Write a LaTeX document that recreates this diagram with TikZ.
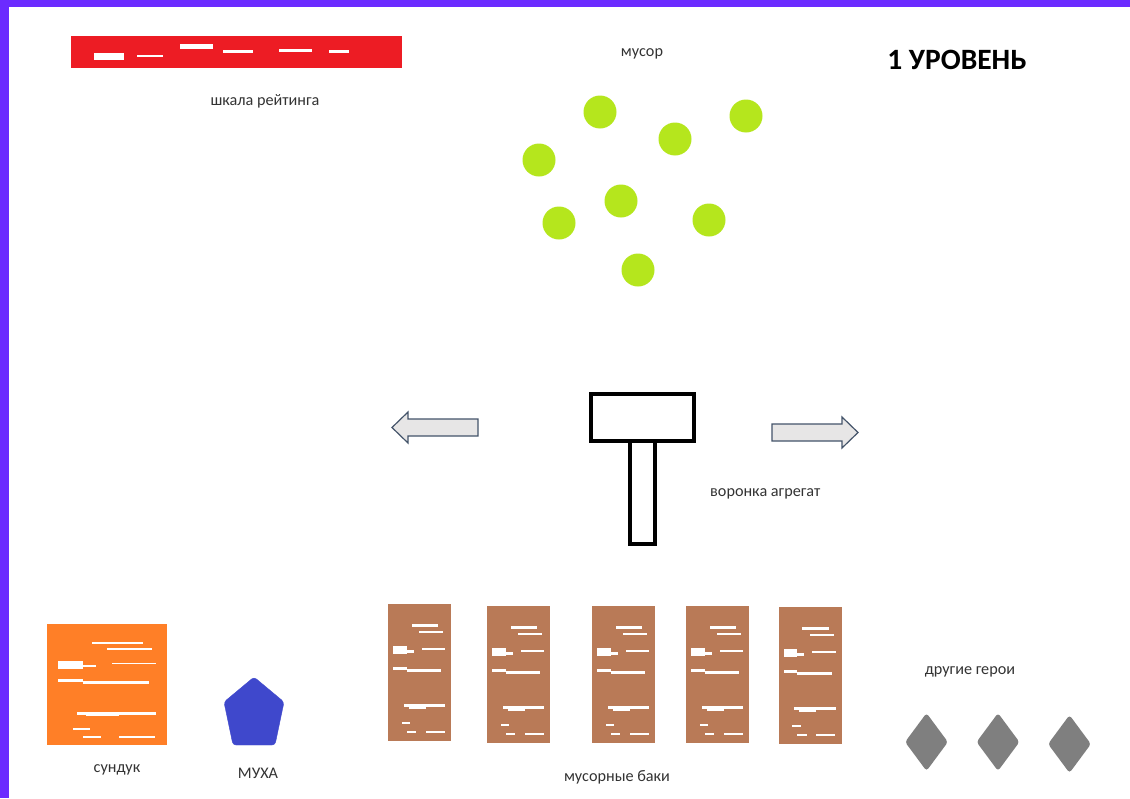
\documentclass[tikz,border=0pt]{standalone}
\usepackage{fontspec}
\setmainfont{Carlito}
\usetikzlibrary{shapes.geometric}

\definecolor{framecol}{HTML}{6B2BFF}
\definecolor{barred}{HTML}{ED1C24}
\definecolor{junkgreen}{HTML}{B5E61D}
\definecolor{chestorange}{HTML}{FF7F27}
\definecolor{flyblue}{HTML}{3F48CC}
\definecolor{binbrown}{HTML}{B97A57}
\definecolor{herogray}{HTML}{7F7F7F}
\definecolor{arrowfill}{HTML}{E7E6E6}
\definecolor{arrowline}{HTML}{44546A}

% white streaks inside a unit square (y runs down)
\newcommand{\trashmarks}{%
  \fill[white] (0.38,0.15) rectangle (0.80,0.17);
  \fill[white] (0.50,0.20) rectangle (0.88,0.215);
  \fill[white] (0.09,0.31) rectangle (0.30,0.37);
  \fill[white] (0.30,0.34) rectangle (0.41,0.36);
  \fill[white] (0.54,0.32) rectangle (0.91,0.335);
  \fill[white] (0.09,0.46) rectangle (0.30,0.48);
  \fill[white] (0.30,0.475) rectangle (0.85,0.495);
  \fill[white] (0.25,0.73) rectangle (0.91,0.75);
  \fill[white] (0.33,0.75) rectangle (0.60,0.765);
  \fill[white] (0.22,0.86) rectangle (0.36,0.875);
  \fill[white] (0.30,0.93) rectangle (0.45,0.945);
  \fill[white] (0.60,0.93) rectangle (0.90,0.945);
}

\begin{document}
\begin{tikzpicture}[x=1pt,y=-1pt]
\tikzstyle{every node}+=[inner sep=0pt]
\tikzstyle{caption}=[font=\fontsize{16.2}{19}\selectfont, text=black!80]
\tikzstyle{junk}=[circle, fill=junkgreen, minimum size=33pt]
\tikzstyle{trashbin}=[rectangle, fill=binbrown, minimum width=63pt, minimum height=137pt]
\tikzstyle{hero}=[diamond, fill=herogray, minimum width=43pt, minimum height=58pt, rounded corners=3pt]
\tikzstyle{funnel}=[rectangle, draw=black, fill=white, line width=4pt]
\tikzstyle{flatarrow}=[fill=arrowfill, draw=arrowline, line width=1.2pt, line join=miter]
\useasboundingbox (0,0) rectangle (1130,798);
\fill[white] (0,0) rectangle (1130,798);
\fill[framecol] (0,0) rectangle (1130,7);
\fill[framecol] (0,0) rectangle (9,798);

% rating bar
\node[rectangle, fill=barred, minimum width=331pt, minimum height=32pt] (bar) at (236.5,52) {};
\begin{scope}[shift={(bar.north west)}, xscale=331, yscale=32]
  \fill[white] (0.07,0.55) rectangle (0.16,0.75);
  \fill[white] (0.33,0.25) rectangle (0.43,0.42);
  \fill[white] (0.46,0.45) rectangle (0.55,0.55);
  \fill[white] (0.63,0.40) rectangle (0.73,0.50);
  \fill[white] (0.78,0.45) rectangle (0.84,0.55);
  \fill[white] (0.20,0.60) rectangle (0.28,0.66);
\end{scope}
\node[caption] (barlabel) at (265,101) {шкала рейтинга};

% title
\node[font=\bfseries\fontsize{29.5}{34}\selectfont] (level) at (957,60) {1 УРОВЕНЬ};

% garbage
\node[caption] (junklabel) at (642,54) {мусор};
\node[junk] (junk1) at (600,112) {};
\node[junk] (junk2) at (746,116) {};
\node[junk] (junk3) at (675,139) {};
\node[junk] (junk4) at (539,160) {};
\node[junk] (junk5) at (621,201) {};
\node[junk] (junk6) at (559,223) {};
\node[junk] (junk7) at (709,220) {};
\node[junk] (junk8) at (638,270) {};

% funnel unit with arrows
\node[funnel, minimum width=25pt, minimum height=103pt] (stem) at (642.5,492.5) {};
\node[funnel, minimum width=103pt, minimum height=47pt] (head) at (642.5,417.5) {};
\node[caption, anchor=west] (funnellabel) at (710,494) {воронка агрегат};
\draw[flatarrow] (392,427.5) -- (408,412) -- (408,419) -- (478,419) -- (478,436)
  -- (408,436) -- (408,443) -- cycle;
\draw[flatarrow] (858,432.5) -- (842,417) -- (842,424) -- (772,424) -- (772,441)
  -- (842,441) -- (842,448) -- cycle;

% chest
\node[rectangle, fill=chestorange, minimum width=120pt, minimum height=121pt] (chest) at (107,684.5) {};
\begin{scope}[shift={(chest.north west)}, xscale=120, yscale=121]
  \trashmarks
\end{scope}
\node[caption] (chestlabel) at (117,770) {сундук};

% fly
\filldraw[fill=flyblue, draw=flyblue, rounded corners=3pt] (254,677) -- (284,702)
  -- (275,745) -- (233,745) -- (224,702) -- cycle;
\node[caption] (flylabel) at (258,773) {МУХА};

% bins
\foreach \i/\x/\y in {1/419.5/672.5, 2/518.5/674.5, 3/623.5/674.5, 4/717.5/674.5, 5/810/675.5}{
  \node[trashbin] (bin\i) at (\x,\y) {};
  \begin{scope}[shift={(bin\i.north west)}, xscale=63, yscale=137]
    \trashmarks
  \end{scope}
}
\node[caption] (binlabel) at (617,777) {мусорные баки};

% other heroes
\node[hero] (hero1) at (926.5,742) {};
\node[hero] (hero2) at (998,742) {};
\node[hero] (hero3) at (1069.5,744) {};
\node[caption] (herolabel) at (970,672) {другие герои};
\end{tikzpicture}
\end{document}
